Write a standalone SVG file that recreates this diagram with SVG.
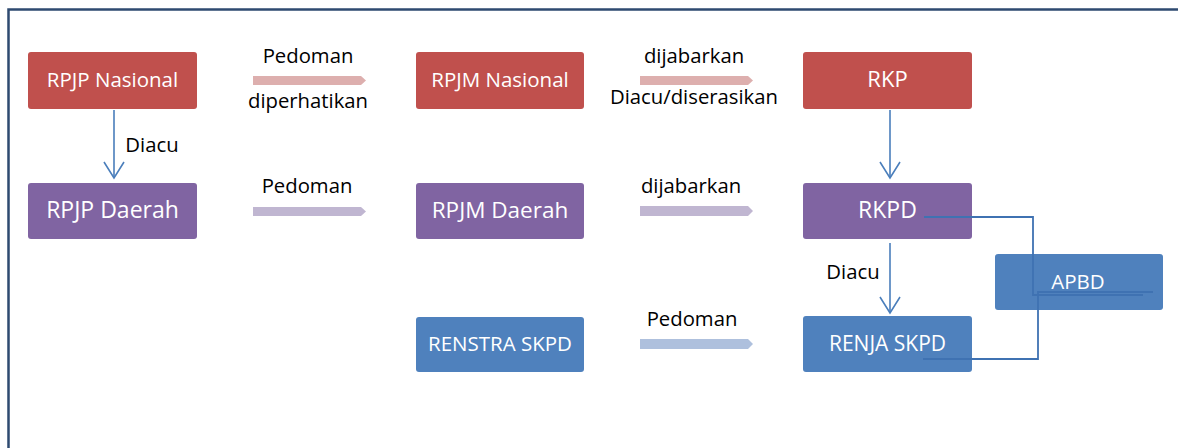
<svg xmlns="http://www.w3.org/2000/svg" width="1178" height="448" viewBox="0 0 1178 448">
<defs>
<style>
.box{stroke:none}
.red{fill:#C0504D}
.pur{fill:#8064A2}
.blu{fill:#4F81BD}
.nt{font-family:"Open Sans","Noto Sans","Liberation Sans",sans-serif;fill:#FFFFFF;text-anchor:middle}
.lb{font-family:"Open Sans","Noto Sans","Liberation Sans",sans-serif;fill:#000000;font-size:20.3px;text-anchor:middle}
.conn{fill:none;stroke:#4A7EBB;stroke-width:1.6}
.el{fill:none;stroke:#3F72B2;stroke-width:1.8}
</style>
<marker id="vee" markerWidth="20" markerHeight="24" refX="17" refY="11" orient="auto" markerUnits="userSpaceOnUse" viewBox="0 0 20 22">
<path d="M1,1 L17,11 L1,21" fill="none" stroke="#4A7EBB" stroke-width="1.6"/>
</marker>
</defs>
<rect x="0" y="0" width="1178" height="448" fill="#FFFFFF"/>
<path d="M8.5,460 L8.5,9.5 L1190,9.5" fill="none" stroke="#2E4A70" stroke-width="2.5"/>

<g id="connectors">
<polygon points="253,76 361,76 366,80.5 361,85 253,85" fill="#DDAFAE"/>
<polygon points="640,76 748,76 753,80.5 748,85 640,85" fill="#DDAFAE"/>
<polygon points="253,207 361,207 366,211.5 361,216 253,216" fill="#C0B6D1"/>
<polygon points="640,206 748,206 753,211 748,216 640,216" fill="#C0B6D1"/>
<polygon points="640,339 748,339 753,344 748,349 640,349" fill="#AEC0DD"/>
<line class="conn" x1="114" y1="110" x2="114" y2="178" marker-end="url(#vee)"/>
<line class="conn" x1="890" y1="110" x2="890" y2="178" marker-end="url(#vee)"/>
<line class="conn" x1="890" y1="243" x2="890" y2="313" marker-end="url(#vee)"/>
<text class="lb" x="308" y="63">Pedoman</text>
<text class="lb" x="308" y="108">diperhatikan</text>
<text class="lb" x="152" y="152">Diacu</text>
<text class="lb" x="307" y="193">Pedoman</text>
<text class="lb" x="694" y="63">dijabarkan</text>
<text class="lb" x="694" y="104">Diacu/diserasikan</text>
<text class="lb" x="691" y="193">dijabarkan</text>
<text class="lb" x="692" y="326">Pedoman</text>
<text class="lb" x="853" y="279">Diacu</text>
</g>

<g id="rpjp-nasional"><rect class="box red" x="28" y="52" width="169" height="57" rx="3"/><text class="nt" x="112.5" y="87" font-size="20.5">RPJP Nasional</text></g>
<g id="rpjp-daerah"><rect class="box pur" x="28" y="183" width="169" height="56" rx="3"/><text class="nt" x="112.5" y="218" font-size="23">RPJP Daerah</text></g>
<g id="rpjm-nasional"><rect class="box red" x="416" y="52" width="168" height="57" rx="3"/><text class="nt" x="500" y="87" font-size="20.5">RPJM Nasional</text></g>
<g id="rpjm-daerah"><rect class="box pur" x="416" y="183" width="168" height="56" rx="3"/><text class="nt" x="500" y="218" font-size="22.5">RPJM Daerah</text></g>
<g id="renstra-skpd"><rect class="box blu" x="416" y="317" width="168" height="55" rx="3"/><text class="nt" x="500" y="351" font-size="20.5">RENSTRA SKPD</text></g>
<g id="rkp"><rect class="box red" x="803" y="52" width="169" height="57" rx="3"/><text class="nt" x="887.5" y="87" font-size="22">RKP</text></g>
<g id="rkpd"><rect class="box pur" x="803" y="183" width="169" height="56" rx="3"/><text class="nt" x="887.5" y="218" font-size="23">RKPD</text></g>
<g id="renja-skpd"><rect class="box blu" x="803" y="316" width="169" height="56" rx="3"/><text class="nt" x="887.5" y="351" font-size="21">RENJA SKPD</text></g>
<g id="apbd"><rect class="box blu" x="995" y="254" width="168" height="56" rx="3"/><text class="nt" x="1078" y="289" font-size="20.5">APBD</text></g>

<g id="elbow-connectors">
<path class="el" d="M924,217 L1033,217 L1033,295 L1143,295"/>
<path class="el" d="M923,359 L1038,359 L1038,292 L1153,292"/>
</g>
</svg>
